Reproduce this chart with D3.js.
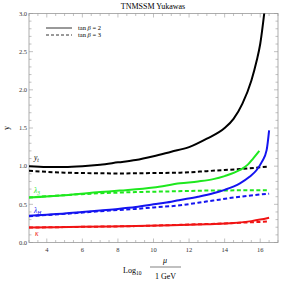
<!DOCTYPE html>
<html><head><meta charset="utf-8">
<script src="https://cdn.jsdelivr.net/npm/d3@7"></script>
<style>body{margin:0;background:#fff}svg{display:block}text{font-family:"Liberation Serif","DejaVu Serif",serif}</style>
</head><body><svg id="c" width="286" height="283"></svg>
<script>
const title = "TNMSSM Yukawas";
const xTicks = [4,6,8,10,12,14,16];
const yTicks = [0.0,0.5,1.0,1.5,2.0,2.5,3.0];
const ytSolid = [[3,1.00],[4,0.99],[5,0.99],[6,1.0],[7,1.02],[8,1.05],[9,1.08],[10,1.13],[11,1.19],[12,1.25],[13,1.36],[14,1.50],[14.5,1.62],[15,1.82],[15.5,2.12],[15.8,2.38],[16,2.6],[16.25,3.05]];
const ytDash = [[3,0.94],[4,0.925],[5,0.915],[6,0.91],[8,0.905],[10,0.91],[11.5,0.915],[13,0.935],[14,0.95],[15,0.965],[16,0.985],[16.5,0.995]];
const l3Solid = [[3,0.59],[5,0.62],[7,0.66],[8.1,0.68],[10,0.72],[11.5,0.775],[12.5,0.80],[13.36,0.83],[14,0.87],[14.86,0.95],[15.3,1.02],[15.6,1.10],[15.95,1.20]];
const l3Dash = [[3,0.59],[5,0.62],[7,0.645],[9,0.66],[11,0.67],[13,0.68],[16.5,0.685]];
const lhSolid = [[3,0.35],[4,0.365],[5,0.38],[6,0.40],[7,0.42],[8,0.44],[9,0.465],[10,0.50],[11,0.535],[11.5,0.557],[12.5,0.60],[13.36,0.645],[14,0.69],[14.86,0.775],[15.4,0.86],[15.8,0.95],[16.1,1.06],[16.36,1.21],[16.5,1.47]];
const lhDash = [[3,0.345],[5,0.375],[7,0.41],[8,0.425],[9,0.44],[10,0.46],[11.5,0.487],[12.5,0.52],[13.36,0.55],[14.86,0.60],[16.5,0.64]];
const kSolid = [[3,0.195],[6,0.205],[9,0.215],[11,0.225],[13,0.24],[14.5,0.255],[15.5,0.28],[16,0.30],[16.5,0.325]];
const kDash = [[3,0.195],[6,0.205],[9,0.215],[12,0.235],[14,0.25],[15.5,0.265],[16.5,0.275]];
const series = [
 {d:ytSolid,c:"#000",dash:null},{d:ytDash,c:"#000",dash:"4,2.5"},
 {d:l3Solid,c:"#1ee81e",dash:null},{d:l3Dash,c:"#1ee81e",dash:"4,2.5"},
 {d:lhSolid,c:"#1414f0",dash:null},{d:lhDash,c:"#1414f0",dash:"4,2.5"},
 {d:kSolid,c:"#f01414",dash:null},{d:kDash,c:"#f01414",dash:"4,2.5"}
];
const svg = d3.select("#c");
const L=29,R=278,T=13.5,B=242.5;
const x = d3.scaleLinear().domain([3,17]).range([L,R]);
const y = d3.scaleLinear().domain([0,3]).range([B,T]);
const axc="#999";
const g = svg.append("g");
g.append("defs").append("clipPath").attr("id","cp").append("rect").attr("x",L).attr("y",T).attr("width",R-L).attr("height",B-T);
// frame
g.append("rect").attr("x",L).attr("y",T).attr("width",R-L).attr("height",B-T).attr("fill","none").attr("stroke",axc).attr("stroke-width",0.8);
// minor/major ticks
const xMinor = d3.range(3,17.01,0.5);
const yMinor = d3.range(0,3.001,0.1);
xMinor.forEach(v=>{const maj=xTicks.some(t=>Math.abs(t-v)<1e-6);const len=maj?4:2.5;
 g.append("line").attr("x1",x(v)).attr("x2",x(v)).attr("y1",B).attr("y2",B-len).attr("stroke",axc).attr("stroke-width",0.6);
 g.append("line").attr("x1",x(v)).attr("x2",x(v)).attr("y1",T).attr("y2",T+len).attr("stroke",axc).attr("stroke-width",0.6);});
yMinor.forEach(v=>{const maj=yTicks.some(t=>Math.abs(t-v)<1e-6);const len=maj?4:2.5;
 g.append("line").attr("y1",y(v)).attr("y2",y(v)).attr("x1",L).attr("x2",L+len).attr("stroke",axc).attr("stroke-width",0.6);
 g.append("line").attr("y1",y(v)).attr("y2",y(v)).attr("x1",R).attr("x2",R-len).attr("stroke",axc).attr("stroke-width",0.6);});
xTicks.forEach(v=>g.append("text").attr("x",x(v)).attr("y",B+9).attr("text-anchor","middle").attr("font-size",6.5).attr("fill","#333").text(v));
yTicks.forEach(v=>g.append("text").attr("x",L-2).attr("y",y(v)+2.3).attr("text-anchor","end").attr("font-size",6.5).attr("fill","#333").text(v.toFixed(1)));
// curves
const line = d3.line().x(d=>x(d[0])).y(d=>y(d[1])).curve(d3.curveMonotoneX);
const cg = g.append("g").attr("clip-path","url(#cp)");
series.forEach(s=>cg.append("path").attr("d",line(s.d)).attr("fill","none").attr("stroke",s.c).attr("stroke-width",2).attr("stroke-dasharray",s.dash));
// title
g.append("text").attr("x",153).attr("y",9).attr("text-anchor","middle").attr("font-size",8).text(title);
// legend
g.append("line").attr("x1",46).attr("x2",72).attr("y1",28).attr("y2",28).attr("stroke","#000").attr("stroke-width",0.8);
g.append("line").attr("x1",46).attr("x2",72).attr("y1",35).attr("y2",35).attr("stroke","#000").attr("stroke-width",0.8).attr("stroke-dasharray","3,2");
[["2",30],["3",37]].forEach(([n,yy])=>{const t=g.append("text").attr("x",78).attr("y",yy).attr("font-size",6.5);
 t.append("tspan").text("tan ");t.append("tspan").attr("font-style","italic").text("β");t.append("tspan").text(" = "+n);});
// curve labels
function lab(xx,yy,main,sub,col){const t=g.append("text").attr("x",xx).attr("y",yy).attr("font-size",7.5).attr("fill",col).attr("font-style","italic");
 t.append("tspan").text(main); if(sub) t.append("tspan").attr("font-size",5.5).attr("dy",1.5).text(sub);}
lab(34,160,"y","t","#000");
lab(34,193,"λ","3","#1ee81e");
lab(34,213,"λ","H","#1414f0");
lab(35,236,"κ",null,"#f01414");
// axis labels
g.append("text").attr("transform","translate(9,128) rotate(-90)").attr("text-anchor","middle").attr("font-size",8).text("y");
const xl = g.append("g");
const t1 = xl.append("text").attr("x",123).attr("y",273).attr("font-size",8);
t1.append("tspan").text("Log");t1.append("tspan").attr("font-size",5.5).attr("dy",1.5).text("10");
xl.append("text").attr("x",165).attr("y",263).attr("text-anchor","middle").attr("font-size",8).attr("font-style","italic").text("μ");
xl.append("line").attr("x1",150).attr("x2",181).attr("y1",267).attr("y2",267).attr("stroke","#000").attr("stroke-width",0.5);
xl.append("text").attr("x",165.5).attr("y",279).attr("text-anchor","middle").attr("font-size",8).text("1 GeV");
</script></body></html>
